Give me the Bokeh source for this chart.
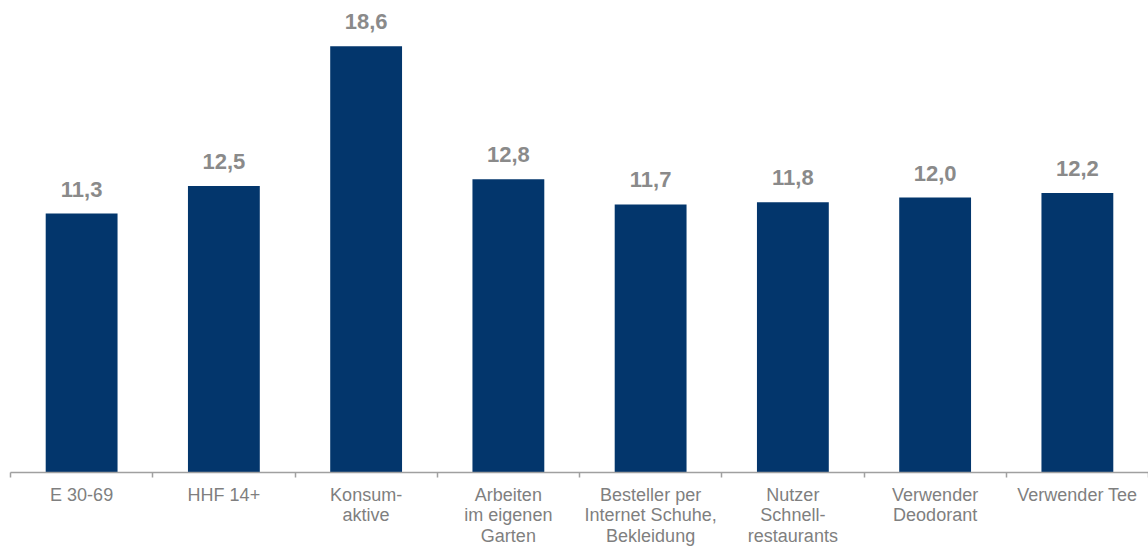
from bokeh.plotting import figure
from bokeh.models import Range1d, FixedTicker, LabelSet, ColumnDataSource
from bokeh.core.properties import value
from bokeh.embed import file_html
from bokeh.resources import INLINE

categories = ["E 30-69", "HHF 14+", "Konsum-\naktive", "Arbeiten\nim eigenen\nGarten",
              "Besteller per\nInternet Schuhe,\nBekleidung", "Nutzer\nSchnell-\nrestaurants",
              "Verwender\nDeodorant", "Verwender Tee"]
values = [11.3, 12.5, 18.6, 12.8, 11.7, 11.8, 12.0, 12.2]
value_labels = [f"{v:.1f}".replace(".", ",") for v in values]

n = len(categories)
centers = [i + 0.5 for i in range(n)]
bounds = [float(i) for i in range(n + 1)]

src = ColumnDataSource(dict(x=centers, top=values, lab=value_labels))

p = figure(width=1148, height=548, output_backend="svg", toolbar_location=None,
           x_range=Range1d(0, n), y_range=Range1d(0, 20.6),
           min_border_left=10, min_border_right=0, min_border_top=0, min_border_bottom=76)
p.outline_line_color = None
p.xgrid.visible = False
p.ygrid.visible = False
p.yaxis.visible = False

p.vbar(x="x", top="top", width=0.505, bottom=0, source=src,
       fill_color="#03366C", line_color=None)

labels = LabelSet(x="x", y="top", text="lab", source=src, y_offset=17,
                  text_align=value("center"), text_baseline=value("alphabetic"),
                  text_font=value("Liberation Sans"), text_font_style=value("bold"),
                  text_font_size=value("22px"), text_color="#8A8A8A")
p.add_layout(labels)

ax = p.xaxis[0]
ax.ticker = FixedTicker(ticks=centers, minor_ticks=bounds)
ax.major_label_overrides = {c: lab for c, lab in zip(centers, categories)}
ax.major_tick_out = 0
ax.major_tick_in = 0
ax.minor_tick_out = 5
ax.minor_tick_in = 0
ax.minor_tick_line_color = "#A0A0A0"
ax.minor_tick_line_width = 1.5
ax.axis_line_color = "#A0A0A0"
ax.axis_line_width = 1.5
ax.major_label_standoff = 7
ax.major_label_text_font = "Liberation Sans"
ax.major_label_text_font_size = "18px"
ax.major_label_text_color = "#7F7F7F"
ax.major_label_text_line_height = 1.03

open("out.html", "w").write(file_html(p, INLINE))
